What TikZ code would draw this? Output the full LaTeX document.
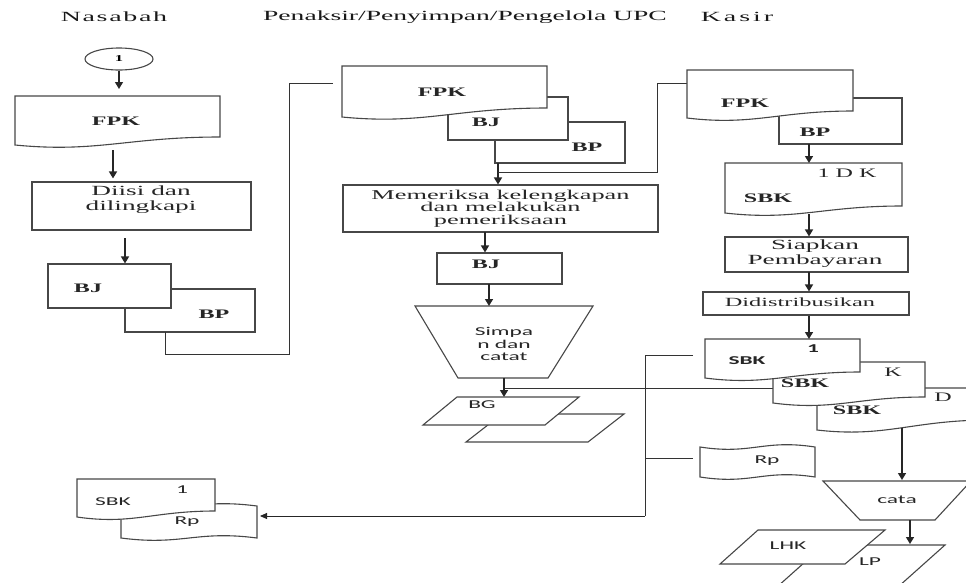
\documentclass[tikz,border=0pt]{standalone}
\usepackage{fontspec}
\setmainfont{Liberation Serif}
\newfontfamily\hdrfont[FakeStretch=1.97]{Liberation Serif}
\newfontfamily\hdrwideA[FakeStretch=2.0,LetterSpace=12]{Liberation Serif}
\newfontfamily\hdrwideB[FakeStretch=2.0,LetterSpace=21]{Liberation Serif}
\newfontfamily\boxfont[FakeStretch=1.95]{Liberation Serif}
\newfontfamily\docfont[FakeStretch=1.85]{Liberation Serif}
\newfontfamily\sansfnt[FakeStretch=1.95]{Carlito}
\usetikzlibrary{arrows.meta,shapes.geometric}

% document shape: name, x1, y1, x2, y-bottom-left, y-bottom-right
\newcommand\docshape[6]{%
  \draw[shp] (#2,#3) -- (#4,#3) -- (#4,#6)
    .. controls ({#2+0.55*(#4-#2)},#6) and ({#2+0.4*(#4-#2)},{#5+8}) .. (#2,#5) -- cycle;
  \coordinate (#1) at ({(#2+#4)/2},{(#3+#5)/2});}
% punched tape shape: name, x1, x2, y-top, y-bottom
\newcommand\tapeshape[5]{%
  \draw[shp] (#2,#4) .. controls ({#2+0.45*(#3-#2)},{#4+8}) and ({#2+0.55*(#3-#2)},{#4-8}) .. (#3,#4)
    -- (#3,#5) .. controls ({#2+0.55*(#3-#2)},{#5-8}) and ({#2+0.45*(#3-#2)},{#5+8}) .. (#2,#5) -- cycle;
  \coordinate (#1) at ({(#2+#3)/2},{(#4+#5)/2});}

\begin{document}
\begin{tikzpicture}[x=1pt,y=-1pt,
  shp/.style={draw=black!72,line width=1.1pt,fill=white},
  box/.style={draw=black!72,line width=1.1pt,fill=white,inner sep=0pt},
  arr/.style={draw=black!85,line width=1.4pt,-{Triangle[length=7pt,width=8pt]}},
  larr/.style={draw=black!85,line width=0.9pt,-{Triangle[length=7pt,width=6pt]}},
  lnk/.style={draw=black!80,line width=0.9pt},
  hdr/.style={font=\hdrfont\fontsize{14}{16}\selectfont,text=black!90},
  lbl/.style={font=\docfont\bfseries\fontsize{13}{15}\selectfont,inner sep=0pt,text=black!85},
  sl/.style={font=\sansfnt\fontsize{12}{12.5}\selectfont,inner sep=0pt,text=black!85,align=center},
  btxt/.style={font=\boxfont\fontsize{14}{15}\selectfont,align=center,inner sep=0pt,text=black!85},
]
\useasboundingbox (0,0) rectangle (966,582);
\clip (0,0) rectangle (966,582);

% headers
\node[hdr,font=\hdrwideA\fontsize{14}{16}\selectfont] (hN) at (114,17) {Nasabah};
\node[hdr] (hP) at (465,17) {Penaksir/Penyimpan/Pengelola UPC};
\node[hdr,font=\hdrwideB\fontsize{14}{16}\selectfont] (hK) at (737,17) {Kasir};

%================ Nasabah
\node[draw=black!72,line width=1.1pt,ellipse,minimum width=68pt,minimum height=22pt,inner sep=0pt,
      font=\docfont\bfseries\fontsize{9}{10}\selectfont] (c1) at (119,59) {1};
\docshape{fpk1}{15}{96}{220}{145}{137}
\node[lbl] (fpk1t) at (116,121) {FPK};
\coordinate (fpk1-n) at (119,96);
\draw[arr,shorten >=7pt] (c1) -- (fpk1-n);

\node[box,minimum width=219pt,minimum height=48pt] (diisi) at (141.5,206) {};
\node[btxt] (diisit) at (141,200) {Diisi dan\\dilingkapi};
\coordinate (fpk1-b) at (113,150);
\draw[arr,shorten >=3pt] (fpk1-b) -- (fpk1-b |- diisi.north);

\node[box,minimum width=130pt,minimum height=43pt] (bp1) at (190,310.5) {};
\node[box,minimum width=123pt,minimum height=44pt] (bj1) at (109.5,286) {};
\node[lbl] (bj1t) at (88,288) {BJ};
\node[lbl] (bp1t) at (214,314) {BP};
\coordinate (dii-b) at (125,238);
\draw[arr] (dii-b) -- (dii-b |- bj1.north);

%================ Penaksir
\node[box,minimum width=130pt,minimum height=41pt] (bp2) at (560,142.5) {};
\node[box,minimum width=120pt,minimum height=43pt] (bj2) at (508,118.5) {};
\docshape{fpk2}{342}{66}{547}{117}{108}
\node[lbl] (fpk2t) at (442,92) {FPK};
\node[lbl] (bj2t) at (486,122) {BJ};
\node[lbl] (bp2t) at (587,147) {BP};

% link from Nasabah BP to Penaksir FPK
\coordinate (l1a) at (165,332);
\coordinate (l1b) at (165,354);
\coordinate (l1c) at (289,354);
\coordinate (l1d) at (289,83);
\coordinate (l1e) at (333,83);
\draw[lnk] (l1a) -- (l1b) -- (l1c) -- (l1d) -- (l1e);

\node[box,minimum width=315pt,minimum height=47pt,
      font=\boxfont\fontsize{13.5}{12.7}\selectfont,align=center,text=black!85] (mem) at (500.5,208.5)
      {Memeriksa kelengkapan\\dan melakukan\\pemeriksaan};
\coordinate (bp2-b) at (498,163);
\draw[arr] (bp2-b) -- (bp2-b |- mem.north);
\coordinate (j1) at (498,172);
\coordinate (j2) at (657,172);
\coordinate (j3) at (657,83);
\coordinate (fpk3-w) at (687,83);
\draw[lnk] (j1) -- (j2) -- (j3) -- (fpk3-w);

\node[box,minimum width=125pt,minimum height=31pt] (bj3) at (499.5,268.5) {};
\node[lbl] (bj3t) at (486,264) {BJ};
\coordinate (mem-b) at (485,232);
\draw[arr] (mem-b) -- (mem-b |- bj3.north);

\draw[shp] (415,306) -- (593,306) -- (548,378) -- (458,378) -- cycle;
\node[sl] (simt) at (504,344) {Simpa\\n dan\\catat};
\coordinate (bj3-b) at (489,284);
\coordinate (sim-n) at (489,306);
\draw[arr] (bj3-b) -- (sim-n);

% line from Simpan towards SBK
\coordinate (sim-b) at (504,378);
\coordinate (bg-n) at (504,397);
\coordinate (h1) at (504,388);
\coordinate (sbkk-w) at (773,388);
\draw[lnk] (h1) -- (sbkk-w);
\draw[arr] (sim-b) -- (bg-n);

\draw[shp] (502,414) -- (624,414) -- (588,442) -- (466,442) -- cycle;
\draw[shp] (457,397) -- (579,397) -- (545,425) -- (423,425) -- cycle;
\node[sl] (bgt) at (482,405) {BG};

%================ Kasir
\node[box,minimum width=123pt,minimum height=46pt] (bp3) at (840.5,121) {};
\docshape{fpk3}{687}{70}{853}{118}{111}
\node[lbl] (fpk3t) at (745,103) {FPK};
\node[lbl] (bp3t) at (815,132) {BP};

\docshape{sbk3}{725}{163}{902}{213}{206}
\node[lbl,font=\docfont\fontsize{13}{15}\selectfont] (sbk3a) at (847,173) {1 D K};
\node[lbl] (sbk3b) at (768,198) {SBK};
\coordinate (bp3-b) at (809,144);
\coordinate (sbk3-n) at (809,163);
\draw[arr] (bp3-b) -- (sbk3-n);

\node[box,minimum width=183pt,minimum height=35pt] (siap) at (816.5,254.5) {};
\node[btxt] (siapt) at (815,254) {Siapkan\\Pembayaran};
\coordinate (sbk3-b) at (809,214);
\draw[arr] (sbk3-b) -- (sbk3-b |- siap.north);

\node[box,minimum width=206pt,minimum height=23pt] (dist) at (806,303.5) {};
\node[font=\boxfont\fontsize{12.5}{14}\selectfont,inner sep=0pt,text=black!85] (distt) at (800,302) {Didistribusikan};
\coordinate (siap-b) at (809,272);
\draw[arr] (siap-b) -- (siap-b |- dist.north);

\docshape{sbkd}{817}{388}{990}{430}{420}
\node[lbl,font=\docfont\fontsize{13}{15}\selectfont] (sbkdt1) at (943,397) {D};
\node[lbl] (sbkdt2) at (857,410) {SBK};
\docshape{sbkk}{773}{362}{925}{403}{397}
\node[lbl,font=\docfont\fontsize{13}{15}\selectfont] (sbkkt1) at (893,372) {K};
\node[lbl] (sbkkt2) at (805,383) {SBK};
\docshape{sbk1}{705}{339}{860}{378}{372}
\node[sl,font=\sansfnt\bfseries\fontsize{12}{13}\selectfont] (sbk1t1) at (813,349) {1};
\node[sl,font=\sansfnt\bfseries\fontsize{12}{13}\selectfont] (sbk1t2) at (747,361) {SBK};
\coordinate (dist-b) at (809,316);
\coordinate (sbk1-n) at (809,339);
\draw[arr] (dist-b) -- (sbk1-n);

% distribution lines
\coordinate (v1) at (645,355);
\coordinate (sbk1-w) at (693,355);
\coordinate (v2) at (645,458);
\coordinate (rp3-w) at (693,458);
\coordinate (v3) at (645,516);
\coordinate (rp1-e) at (260,516);
\draw[lnk] (sbk1-w) -- (v1) -- (v3);
\draw[lnk] (v2) -- (rp3-w);
\draw[larr] (v3) -- (rp1-e);

\tapeshape{rp3}{700}{815}{447}{477}
\node[sl] (rp3t) at (767,461) {Rp};

\draw[shp] (823,481) -- (971,481) -- (935,520) -- (860,520) -- cycle;
\node[sl] (catat) at (897,500) {cata};
\coordinate (sbkd-b) at (902,428);
\coordinate (cata-n) at (902,480);
\draw[arr] (sbkd-b) -- (cata-n);

\draw[shp] (824,545) -- (945,545) -- (889,595) -- (768,595) -- cycle;
\draw[shp] (758,530) -- (885,530) -- (845,564) -- (720,564) -- cycle;
\node[sl] (lhkt) at (788,546) {LHK};
\node[sl] (lpt) at (870,562) {LP};
\coordinate (cata-b) at (910,520);
\coordinate (lp-n) at (910,544);
\draw[arr] (cata-b) -- (lp-n);

%================ bottom left
\tapeshape{rp1}{121}{257}{506}{538}
\node[sl] (rp1t) at (187,522) {Rp};
\docshape{sbk0}{77}{479}{215}{517}{511}
\node[sl] (sbk0t1) at (113,502) {SBK};
\node[sl] (sbk0t2) at (182,490) {1};
\end{tikzpicture}
\end{document}
